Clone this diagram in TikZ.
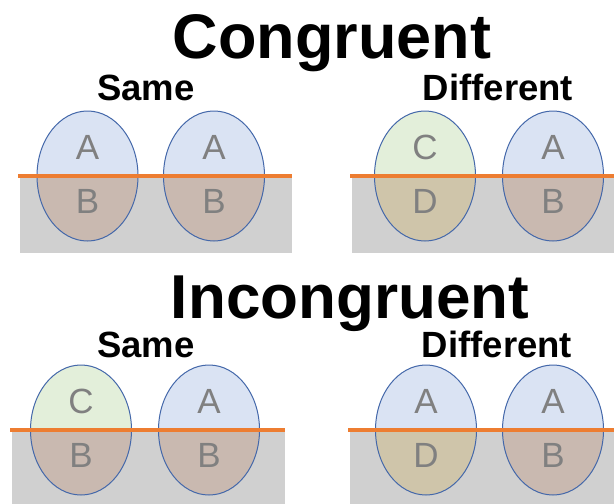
\documentclass[tikz,border=0pt]{standalone}
\usepackage{fontspec}
\setmainfont{Liberation Sans}
\usetikzlibrary{shapes.geometric}
\definecolor{eggblue}{RGB}{218,227,243}
\definecolor{egggreen}{RGB}{227,239,218}
\definecolor{eggbrown}{RGB}{201,185,176}
\definecolor{eggtan}{RGB}{207,197,170}
\definecolor{eggedge}{RGB}{68,104,170}
\definecolor{groundgray}{RGB}{208,208,208}
\definecolor{horizonorange}{RGB}{237,125,49}
\definecolor{lettergray}{RGB}{128,128,128}
\tikzset{
  eggshape/.style={ellipse, minimum width=101pt, minimum height=130pt, inner sep=0pt, draw=eggedge, line width=1pt},
  letter/.style={font=\fontsize{35}{35}\selectfont, text=lettergray, anchor=base, inner sep=0pt},
  maintitle/.style={font=\bfseries\fontsize{63}{63}\selectfont, anchor=base, inner sep=0pt},
  subtitle/.style={font=\bfseries\fontsize{36.5}{36.5}\selectfont, anchor=base, inner sep=0pt},
  ground/.style={fill=groundgray},
  horizon/.style={draw=horizonorange, line width=4pt}
}
\newcommand\drawegg[7]{%
  \node[eggshape, path picture={
      \fill[#4] (path picture bounding box.north west) rectangle (path picture bounding box.east);
      \fill[#5] (path picture bounding box.west) rectangle (path picture bounding box.south east);}]
    (#1) at (#2,#3) {};
  \node[letter, yshift=17pt] (#1t) at (#1.center) {#6};
  \node[letter, yshift=-37pt] (#1b) at (#1.center) {#7};
}
\begin{document}
\begin{tikzpicture}[x=1pt,y=-1pt]
\useasboundingbox[fill=white] (0,0) rectangle (614,504);
% ground rectangles
\fill[ground] (20,176) rectangle (292,253);
\fill[ground] (352,176) rectangle (614,253);
\fill[ground] (12,430) rectangle (285,504);
\fill[ground] (350,430) rectangle (614,504);
% eggs
\drawegg{e1}{87.5}{176}{eggblue}{eggbrown}{A}{B}
\drawegg{e2}{214}{176}{eggblue}{eggbrown}{A}{B}
\drawegg{e3}{425}{176}{egggreen}{eggtan}{C}{D}
\drawegg{e4}{553}{176}{eggblue}{eggbrown}{A}{B}
\drawegg{e5}{81}{430}{egggreen}{eggbrown}{C}{B}
\drawegg{e6}{209}{430}{eggblue}{eggbrown}{A}{B}
\drawegg{e7}{426}{430}{eggblue}{eggtan}{A}{D}
\drawegg{e8}{553}{430}{eggblue}{eggbrown}{A}{B}
% horizon lines
\coordinate (h1a) at (18,176);  \coordinate (h1b) at (292,176);
\coordinate (h2a) at (350,176); \coordinate (h2b) at (614,176);
\coordinate (h3a) at (10,430);  \coordinate (h3b) at (285,430);
\coordinate (h4a) at (348,430); \coordinate (h4b) at (614,430);
\draw[horizon] (h1a) -- (h1b);
\draw[horizon] (h2a) -- (h2b);
\draw[horizon] (h3a) -- (h3b);
\draw[horizon] (h4a) -- (h4b);
% titles
\node[maintitle] (t1) at (332,58) {Congruent};
\node[maintitle, font=\bfseries\fontsize{62}{62}\selectfont] (t2) at (350,318) {Incongruent};
\node[subtitle] (s1) at (146,100) {Same};
\node[subtitle] (s2) at (498,100) {Different};
\node[subtitle] (s3) at (146,357) {Same};
\node[subtitle] (s4) at (497,357) {Different};
\end{tikzpicture}
\end{document}
